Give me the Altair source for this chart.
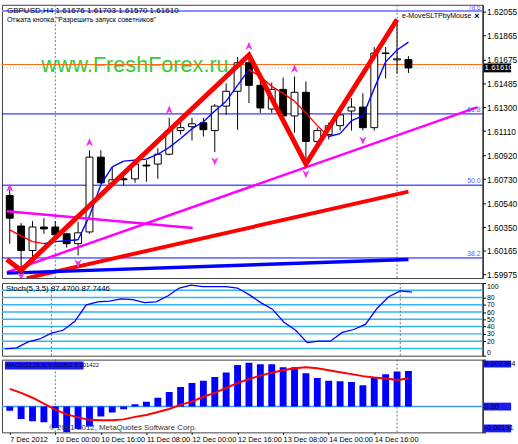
import altair as alt
import pandas as pd

FONT = "Liberation Sans Narrow, Arial Narrow, Liberation Sans, Arial"

# ---------------- GBPUSD H4 candles ----------------
bars = list(range(36))
opens = [1.60600, 1.60359, 1.60165, 1.60351, 1.60351, 1.60297, 1.60219, 1.60312, 1.60904, 1.60694,
         1.60732, 1.60732, 1.60841, 1.60849, 1.60927, 1.61114, 1.61145, 1.61176, 1.61114, 1.61308,
         1.61425, 1.61651, 1.61472, 1.61285, 1.61440, 1.61230, 1.61417, 1.61028, 1.61083, 1.61153,
         1.61269, 1.61300, 1.61137, 1.61728, 1.61674, 1.61676]
highs = [1.60647, 1.60382, 1.60398, 1.60421, 1.60398, 1.60305, 1.60390, 1.60958, 1.60958, 1.60826,
         1.60787, 1.60888, 1.60880, 1.60974, 1.61215, 1.61192, 1.61215, 1.61215, 1.61324, 1.61487,
         1.61697, 1.61713, 1.61503, 1.61495, 1.61534, 1.61542, 1.61503, 1.61137, 1.61176, 1.61308,
         1.61370, 1.61409, 1.61775, 1.61775, 1.61993, 1.61703]
lows = [1.60219, 1.60009, 1.60110, 1.60297, 1.60258, 1.60188, 1.60126, 1.60297, 1.60694, 1.60670,
        1.60678, 1.60701, 1.60709, 1.60732, 1.60919, 1.61083, 1.61036, 1.61067, 1.60943, 1.61238,
        1.61121, 1.61332, 1.61254, 1.61254, 1.61215, 1.61098, 1.60849, 1.61005, 1.61044, 1.61114,
        1.61114, 1.61114, 1.61114, 1.61526, 1.61565, 1.61570]
closes = [1.60421, 1.60165, 1.60351, 1.60336, 1.60289, 1.60219, 1.60305, 1.60904, 1.60701, 1.60725,
          1.60725, 1.60849, 1.60834, 1.60927, 1.61114, 1.61137, 1.61168, 1.61121, 1.61308, 1.61425,
          1.61651, 1.61472, 1.61293, 1.61440, 1.61230, 1.61417, 1.61028, 1.61114, 1.61153, 1.61238,
          1.61300, 1.61137, 1.61728, 1.61724, 1.61682, 1.61610]

# moving average (coloured by slope)
ma = [1.60328, 1.60281, 1.60235, 1.60219, 1.60235, 1.60242, 1.60250, 1.60437, 1.60686, 1.60826,
      1.60872, 1.60880, 1.60888, 1.60927, 1.60981, 1.61051, 1.61129, 1.61184, 1.61269, 1.61347,
      1.61472, 1.61596, 1.61542, 1.61464, 1.61409, 1.61347, 1.61254, 1.61153, 1.61067, 1.61090,
      1.61192, 1.61230, 1.61448, 1.61658, 1.61752, 1.61814]

# zigzag: visible start at the left edge, then swing points
zigzag_bars = [-0.25, 1, 21, 26, 34]
zigzag_prices = [1.60094, 1.60009, 1.61713, 1.60849, 1.61993]

# fractals
up_bars = [0, 7, 14, 21, 25]
up_prices = [1.60662, 1.61020, 1.61277, 1.61783, 1.61604]
down_bars = [1, 6, 18, 26, 31]
down_prices = [1.59962, 1.60063, 1.60872, 1.60771, 1.61036]

# drawn objects
fib_levels = ["38.2", "50.0", "61.8", "78.6"]
fib_prices = [1.60106, 1.60682, 1.61246, 1.62061]
hline_price = 1.61637
bid_price = 1.61610
magenta_up_bars = [-0.25, 41.08]
magenta_up_prices = [1.59993, 1.61300]
magenta_down_bars = [-0.25, 16.06]
magenta_down_prices = [1.60476, 1.60343]
red_trend_bars = [1.5, 35]
red_trend_prices = [1.59947, 1.60631]
blue_trend_bars = [-0.25, 35]
blue_trend_prices = [1.59986, 1.60094]
vline_bars = [4, 34]

# stochastic %K
stoch_k = [9.5, 10.8, 19, 23, 31, 35, 47, 70, 74, 75, 78, 77, 73, 74, 82, 93, 97, 95, 95, 95,
           93, 84, 73, 64, 46, 35, 18, 20, 20, 32, 36, 43, 65, 81, 89, 87.47]
stoch_levels = [10, 20, 30, 40, 50, 60, 70, 80, 90]
stoch_ticks = [0, 20, 30, 40, 50, 60, 70, 80, 100]

# MACD
macd_hist = [-0.000215, -0.000634, -0.000749, -0.000798, -0.001083, -0.00131, -0.001133, -0.001013,
             -0.000499, -0.000299, -0.000135, 0.000115, 0.00025, 0.000449, 0.000734, 0.000998,
             0.001198, 0.001312, 0.001497, 0.001732, 0.002111, 0.002231, 0.002146, 0.002146,
             0.001996, 0.001996, 0.001697, 0.001447, 0.001312, 0.001282, 0.001248, 0.001083,
             0.001447, 0.001647, 0.001781, 0.001802]
macd_signal = [0.000898, 0.000699, 0.000449, 0.00015, -0.00015, -0.000399, -0.000549, -0.000674,
               -0.000699, -0.000699, -0.000649, -0.000524, -0.000424, -0.000274, -0.000125, 0.0001,
               0.00025, 0.000499, 0.000699, 0.000948, 0.001198, 0.001397, 0.001572, 0.001722,
               0.001846, 0.001946, 0.001996, 0.001946, 0.001846, 0.001747, 0.001647, 0.001547,
               0.001472, 0.001422, 0.001347, 0.001422]
macd_ticks = [-0.00131, 0.0, 0.002384]
macd_tick_labels = ["-0.00131", "0.00", "0.002384"]

# axes
price_ticks = [1.62055, 1.61865, 1.61675, 1.61485, 1.61300, 1.61110, 1.60920,
               1.60730, 1.60540, 1.60350, 1.60165, 1.59975]
time_ticks = [0, 4, 8, 12, 16, 20, 24, 28, 32]
time_labels = ["7 Dec 2012", "10 Dec 00:00", "10 Dec 16:00", "11 Dec 08:00", "12 Dec 00:00",
               "12 Dec 16:00", "13 Dec 08:00", "14 Dec 00:00", "14 Dec 16:00"]

# ---------------- scales ----------------
W = 489
xs = alt.Scale(domain=[-0.25, 41.08], nice=False, zero=False)
ps = alt.Scale(domain=[1.59947, 1.621095], nice=False, zero=False)
ss = alt.Scale(domain=[0, 100], nice=False, zero=False)
ms = alt.Scale(domain=[-0.00131, 0.002384], nice=False, zero=False)

price_axis = alt.Axis(orient="right", values=price_ticks, format=".5f", title=None, grid=False,
                      tickSize=3, labelPadding=1, labelFontSize=8.5, labelFont=FONT,
                      labelColor="#000", domainColor="#000", tickColor="#000", labelOverlap=False)
stoch_axis = alt.Axis(orient="right", values=stoch_ticks, title=None, grid=False, tickSize=3,
                      labelPadding=1, labelFontSize=7, labelFont=FONT, labelColor="#000",
                      domainColor="#000", tickColor="#000", labelOverlap=False, labelFlush=True)
macd_axis = alt.Axis(orient="right", values=macd_ticks, title=None, grid=False, tickSize=3,
                     labels=False, domainColor="#000", tickColor="#000")

label_js = "[" + ",".join("'%s'" % t for t in time_labels) + "]"
ticks_js = "[" + ",".join(str(t) for t in time_ticks) + "]"
time_axis = alt.Axis(values=time_ticks, labelExpr=f"{label_js}[indexof({ticks_js}, datum.value)]",
                     title=None, grid=False, domain=False, tickSize=2, labelPadding=1,
                     labelAlign="left", labelBaseline="top", labelFontSize=7.5, labelFont=FONT,
                     labelColor="#000", tickColor="#000", labelOverlap=False)


def X(axis=None):
    return alt.X("bar:Q", scale=xs, axis=axis)


def PY(field):
    return alt.Y(f"{field}:Q", scale=ps, axis=price_axis)


def line_df(bx, py):
    return pd.DataFrame({"bar": bx, "price": py})


# ---------------- price panel ----------------
candles = pd.DataFrame({"bar": bars, "open": opens, "high": highs, "low": lows, "close": closes})

ma_rows = []
for k in range(len(ma) - 1):
    d = "up" if ma[k + 1] >= ma[k] else "down"
    ma_rows.append({"seg": k, "bar": bars[k], "price": ma[k], "dir": d})
    ma_rows.append({"seg": k, "bar": bars[k + 1], "price": ma[k + 1], "dir": d})
ma_df = pd.DataFrame(ma_rows)

fib_df = pd.DataFrame({"price": fib_prices, "level": fib_levels})
fib_low = fib_df[fib_df.level != "78.6"]

one = pd.DataFrame({"a": [0]})

hlines = alt.Chart(fib_low).mark_rule(color="#0000ff", strokeWidth=1).encode(y=PY("price"))
top_fib = alt.Chart(fib_df[fib_df.level == "78.6"]).mark_rule(color="#8c8cff", strokeWidth=2).encode(
    y=PY("price"))
fib_text = alt.Chart(fib_low).mark_text(align="right", baseline="bottom", dy=-1, fontSize=7,
                                        font=FONT, color="#5a5aff").encode(
    x=alt.value(487), y=PY("price"), text="level:N")
fib_top_text = alt.Chart(one).mark_text(align="right", baseline="middle", fontSize=6.5,
                                        font=FONT, color="#5a5aff").encode(
    x=alt.value(487), y=alt.value(3), text=alt.value("78.6"))

watermark = alt.Chart(one).mark_text(align="left", baseline="middle", fontSize=22,
                                     font="Liberation Sans, Arial", color="#33cc33").encode(
    x=alt.value(40), y=alt.value(61), text=alt.value("www.FreshForex.ru"))

orange = alt.Chart(pd.DataFrame({"price": [hline_price]})).mark_rule(
    color="#ff6a1a", strokeWidth=1.2).encode(y=PY("price"))
bid = alt.Chart(pd.DataFrame({"price": [bid_price]})).mark_rule(
    color="#b0b0b0", strokeWidth=1, strokeDash=[1, 2]).encode(y=PY("price"))

vdf = pd.DataFrame({"bar": vline_bars})
vlines = alt.Chart(vdf).mark_rule(color="#707070", strokeWidth=1, strokeDash=[2, 2]).encode(x=X())

wicks = alt.Chart(candles).mark_rule(color="#000", strokeWidth=1).encode(
    x=X(), y=PY("low"), y2="high")
bodies = alt.Chart(candles).mark_bar(size=7, stroke="#000", strokeWidth=1, clip=True).encode(
    x=X(), y=PY("open"), y2="close",
    fill=alt.condition("datum.close >= datum.open", alt.value("#ffffff"), alt.value("#000000")))

ma_line = alt.Chart(ma_df).mark_line(strokeWidth=1.4, clip=True).encode(
    x=X(), y=PY("price"), detail="seg:N",
    color=alt.Color("dir:N", scale=alt.Scale(domain=["up", "down"], range=["#0000ff", "#ff0000"]),
                    legend=None))

mag_up = alt.Chart(line_df(magenta_up_bars, magenta_up_prices)).mark_line(
    color="#ff00ff", strokeWidth=2.5, clip=True).encode(x=X(), y=PY("price"))
mag_down = alt.Chart(line_df(magenta_down_bars, magenta_down_prices)).mark_line(
    color="#ff00ff", strokeWidth=2.5, clip=True).encode(x=X(), y=PY("price"))
red_trend = alt.Chart(line_df(red_trend_bars, red_trend_prices)).mark_line(
    color="#ff0000", strokeWidth=4, clip=True).encode(x=X(), y=PY("price"))
blue_trend = alt.Chart(line_df(blue_trend_bars, blue_trend_prices)).mark_line(
    color="#0000ff", strokeWidth=3.5, clip=True).encode(x=X(), y=PY("price"))
zigzag = alt.Chart(line_df(zigzag_bars, zigzag_prices)).mark_line(
    color="#ff0000", strokeWidth=5, clip=True).encode(x=X(), y=PY("price"))

UP_ARROW = "M0,-1L0.8,0.9L0,0.35L-0.8,0.9Z"
DOWN_ARROW = "M0,1L0.8,-0.9L0,-0.35L-0.8,-0.9Z"
frac_up = alt.Chart(line_df(up_bars, up_prices)).mark_point(
    shape=UP_ARROW, size=80, filled=True, color="#ee33ee", opacity=1, clip=True).encode(
    x=X(), y=PY("price"))
frac_down = alt.Chart(line_df(down_bars, down_prices)).mark_point(
    shape=DOWN_ARROW, size=80, filled=True, color="#ee33ee", opacity=1, clip=True).encode(
    x=X(), y=PY("price"))

header1 = alt.Chart(one).mark_text(align="left", baseline="middle", fontSize=8.2, font=FONT,
                                   color="#000").encode(
    x=alt.value(5), y=alt.value(6),
    text=alt.value("GBPUSD,H4  1.61676 1.61703 1.61570 1.61610"))
header2 = alt.Chart(one).mark_text(align="left", baseline="middle", fontSize=7, font=FONT,
                                   color="#000").encode(
    x=alt.value(5), y=alt.value(16),
    text=alt.value("Отжата кнопка \"Разрешить запуск советников\""))
expert = alt.Chart(one).mark_text(align="left", baseline="middle", fontSize=7.2, font=FONT,
                                  color="#000").encode(
    x=alt.value(407), y=alt.value(11), text=alt.value("e-MoveSLTPbyMouse"))
close_btn = alt.Chart(one).mark_text(align="center", baseline="middle", fontSize=9,
                                     fontWeight="bold", font="Liberation Sans", color="#000").encode(
    x=alt.value(483), y=alt.value(11), text=alt.value("×"))

bid_df = pd.DataFrame({"price": [bid_price], "label": ["%.5f" % bid_price]})
bid_box = alt.Chart(bid_df).mark_rect(color="#000", yOffset=-4.5, y2Offset=4.5).encode(
    x=alt.value(490), x2=alt.value(518), y=PY("price"), y2="price")
bid_text = alt.Chart(bid_df).mark_text(align="left", baseline="middle", fontSize=8, font=FONT,
                                       color="#fff").encode(
    x=alt.value(491), y=PY("price"), text="label:N")

price_panel = alt.layer(
    hlines, top_fib, watermark, orange, bid, vlines, wicks, bodies, ma_line,
    mag_up, mag_down, red_trend, blue_trend, zigzag, frac_up, frac_down,
    fib_text, fib_top_text, header1, header2, expert, close_btn, bid_box, bid_text,
).properties(width=W, height=278)

# ---------------- stochastic panel ----------------
stoch_df = pd.DataFrame({"bar": bars, "k": stoch_k})
lvl_df = pd.DataFrame({"level": stoch_levels})

st_levels = alt.Chart(lvl_df).mark_rule(color="#33b5f5", strokeWidth=1.5).encode(
    y=alt.Y("level:Q", scale=ss, axis=stoch_axis))
st_line = alt.Chart(stoch_df).mark_line(color="#0000ff", strokeWidth=1.3).encode(
    x=X(), y=alt.Y("k:Q", scale=ss, axis=stoch_axis))
st_label = alt.Chart(one).mark_text(align="left", baseline="middle", fontSize=8, font=FONT,
                                    color="#000").encode(
    x=alt.value(4), y=alt.value(6), text=alt.value("Stoch(5,3,5) 87.4700 87.7446"))

stoch_panel = alt.layer(st_levels, vlines, st_line, st_label).properties(width=W, height=74)

# ---------------- MACD panel ----------------
macd_df = pd.DataFrame({"bar": bars, "hist": macd_hist, "signal": macd_signal})

MY = lambda f: alt.Y(f"{f}:Q", scale=ms, axis=macd_axis)
XT = lambda: alt.X("bar:Q", scale=xs, axis=time_axis)

m_zero = alt.Chart(pd.DataFrame({"v": [0.0]})).mark_rule(color="#3d9df5", strokeWidth=1.5).encode(
    y=MY("v"))
m_vlines = alt.Chart(vdf).mark_rule(color="#707070", strokeWidth=1, strokeDash=[2, 2]).encode(x=XT())
m_hist = alt.Chart(macd_df).mark_bar(size=7, color="#0000ff", clip=True).encode(
    x=XT(), y=MY("hist"), y2=alt.datum(0))
m_signal = alt.Chart(macd_df).mark_line(color="#ff0000", strokeWidth=2).encode(
    x=XT(), y=MY("signal"))
m_label_box = alt.Chart(one).mark_rect(color="#1a1aee").encode(
    x=alt.value(3), x2=alt.value(83), y=alt.value(2), y2=alt.value(10))
m_label = alt.Chart(one).mark_text(align="left", baseline="middle", fontSize=6, font=FONT,
                                   color="#000033").encode(
    x=alt.value(4), y=alt.value(6), text=alt.value("MACD(12,26,9) 0.001802 0.001422"))
m_copy = alt.Chart(one).mark_text(align="left", baseline="middle", fontSize=8, font=FONT,
                                  color="#333").encode(
    x=alt.value(48), y=alt.value(70), text=alt.value("© 2001-2012, MetaQuotes Software Corp."))

scale_boxes = []
box_offsets = [(-8, 0), (-4, 4), (1, 8)]
for v, lab, (o1, o2) in zip(macd_ticks, macd_tick_labels, box_offsets):
    d = pd.DataFrame({"v": [v], "label": [lab]})
    scale_boxes.append(alt.Chart(d).mark_rect(color="#1a1aee", yOffset=o1, y2Offset=o2).encode(
        x=alt.value(490), x2=alt.value(518), y=MY("v"), y2="v"))
    scale_boxes.append(alt.Chart(d).mark_text(align="left", baseline="middle", fontSize=7.5,
                                              font=FONT, color="#000033",
                                              dy=(o1 + o2) / 2).encode(
        x=alt.value(491), y=MY("v"), text="label:N"))

macd_panel = alt.layer(m_zero, m_vlines, m_hist, m_signal, m_label_box, m_label, m_copy,
                       *scale_boxes).properties(width=W, height=74)

chart = alt.vconcat(
    price_panel, stoch_panel, macd_panel, spacing=2,
    padding={"left": 0, "top": 0, "right": 0, "bottom": 0},
    autosize=alt.AutoSizeParams(type="pad"),
    background="#ffffff",
).configure_view(stroke="#404040", strokeWidth=1)

chart.save("out.html", embed_options={"renderer": "svg", "actions": False})
